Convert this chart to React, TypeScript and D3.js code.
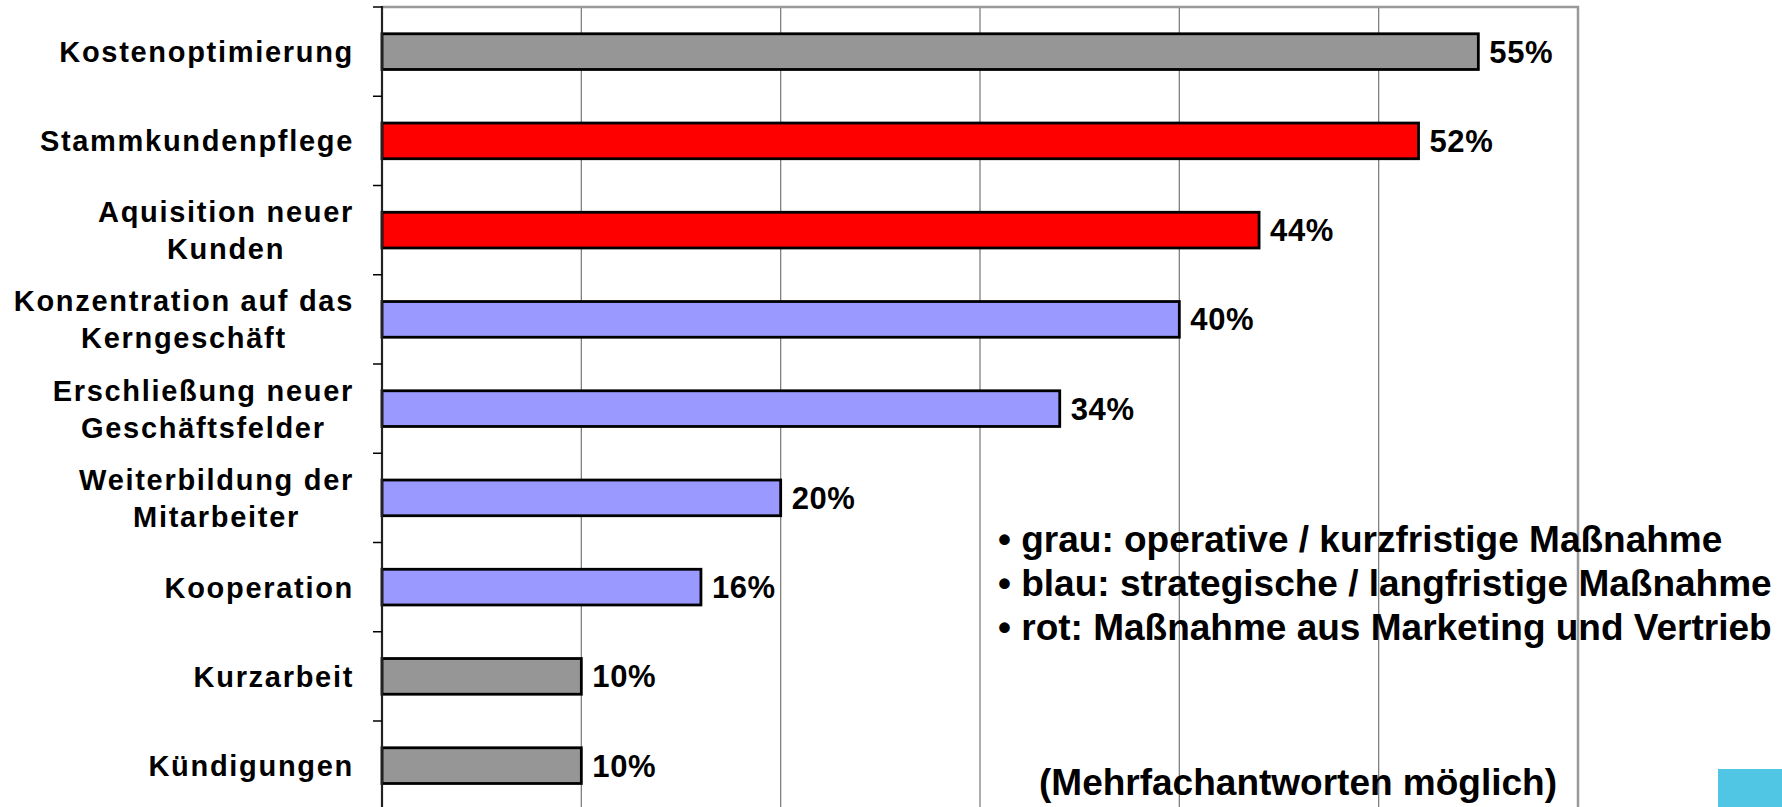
import React, { useEffect, useRef } from 'react';
import * as d3 from 'd3';

const categories = [
  ['Kostenoptimierung'],
  ['Stammkundenpflege'],
  ['Aquisition neuer', 'Kunden'],
  ['Konzentration auf das', 'Kerngeschäft'],
  ['Erschließung neuer', 'Geschäftsfelder'],
  ['Weiterbildung der', 'Mitarbeiter'],
  ['Kooperation'],
  ['Kurzarbeit'],
  ['Kündigungen'],
];
const values = [55, 52, 44, 40, 34, 20, 16, 10, 10];
const groups = ['grau', 'rot', 'rot', 'blau', 'blau', 'blau', 'blau', 'grau', 'grau'];
const xTicks = [0, 10, 20, 30, 40, 50, 60];
const legendLines = [
  '• grau: operative / kurzfristige Maßnahme',
  '• blau: strategische / langfristige Maßnahme',
  '• rot: Maßnahme aus Marketing und Vertrieb',
];
const note = '(Mehrfachantworten möglich)';

const W = 1782;
const H = 807;
const FONT = '"Liberation Sans", Arial, Helvetica, sans-serif';

export default function App() {
  const ref = useRef<SVGSVGElement>(null);

  useEffect(() => {
    document.body.style.margin = '0';
    const svg = d3.select(ref.current);
    svg.selectAll('*').remove();

    const left = 382, right = 1578, top = 7;
    const band = 89.25;
    const bottom = top + band * categories.length;

    const x = d3.scaleLinear().domain([0, 60]).range([left, right]);
    const y = d3.scaleBand<number>()
      .domain(d3.range(categories.length))
      .range([top, bottom])
      .paddingInner(0.6)
      .paddingOuter(0.3);

    const color = d3.scaleOrdinal<string, string>()
      .domain(['grau', 'rot', 'blau'])
      .range(['#969696', '#ff0000', '#9999ff']);

    // gridlines
    svg.append('g')
      .selectAll('line')
      .data(xTicks.slice(1, -1))
      .enter().append('line')
      .attr('x1', d => x(d)).attr('x2', d => x(d))
      .attr('y1', top).attr('y2', bottom)
      .attr('stroke', '#808080')
      .attr('stroke-width', 1.3);

    // frame top / right
    svg.append('path')
      .attr('d', `M${left},${top}H${right}V${bottom}`)
      .attr('fill', 'none')
      .attr('stroke', '#999999')
      .attr('stroke-width', 2.5);

    // bars
    svg.append('g')
      .selectAll('rect')
      .data(values)
      .enter().append('rect')
      .attr('x', x(0))
      .attr('y', (d, i) => y(i)!)
      .attr('width', d => x(d) - x(0))
      .attr('height', y.bandwidth())
      .attr('fill', (d, i) => color(groups[i]))
      .attr('stroke', '#000')
      .attr('stroke-width', 2.8);

    // left axis
    const axis = svg.append('g');
    axis.append('line')
      .attr('x1', left).attr('x2', left)
      .attr('y1', top - 1).attr('y2', bottom)
      .attr('stroke', '#222')
      .attr('stroke-width', 2.2);
    axis.selectAll('line.tick')
      .data(d3.range(categories.length + 1))
      .enter().append('line')
      .attr('class', 'tick')
      .attr('x1', left - 9).attr('x2', left)
      .attr('y1', d => top + d * band).attr('y2', d => top + d * band)
      .attr('stroke', '#000')
      .attr('stroke-width', 1.5);

    // value labels
    svg.append('g')
      .selectAll('text')
      .data(values)
      .enter().append('text')
      .attr('x', d => x(d) + 11)
      .attr('y', (d, i) => y(i)! + y.bandwidth() / 2 + 11)
      .attr('font-family', FONT)
      .attr('font-weight', 'bold')
      .attr('font-size', 31)
      .attr('letter-spacing', 0.6)
      .text(d => `${d}%`);

    // category labels: block right aligned, lines centred
    const labelRight = 354;
    const lineH = 37;
    categories.forEach((lines, i) => {
      const cy = y(i)! + y.bandwidth() / 2;
      const g = svg.append('g');
      const texts = lines.map((t, j) =>
        g.append('text')
          .attr('y', cy + (j - (lines.length - 1) / 2) * lineH + 10.5)
          .attr('font-family', FONT)
          .attr('font-weight', 'bold')
          .attr('font-size', 29)
          .attr('letter-spacing', 1.7)
          .attr('text-anchor', 'middle')
          .text(t));
      const widths = texts.map(t => (t.node() as SVGTextElement).getComputedTextLength());
      const maxW = d3.max(widths) || 0;
      texts.forEach(t => t.attr('x', labelRight - maxW / 2));
    });

    // legend
    svg.append('g')
      .selectAll('text')
      .data(legendLines)
      .enter().append('text')
      .attr('x', 998)
      .attr('y', (d, i) => 552 + i * 44)
      .attr('font-family', FONT)
      .attr('font-weight', 'bold')
      .attr('font-size', 37)
      .text(d => d);

    svg.append('text')
      .attr('x', 1039)
      .attr('y', 795)
      .attr('font-family', FONT)
      .attr('font-weight', 'bold')
      .attr('font-size', 37)
      .text(note);

    svg.append('rect')
      .attr('x', 1718).attr('y', 769)
      .attr('width', 64).attr('height', 38)
      .attr('fill', '#50c6e4');
  }, []);

  return (
    <svg ref={ref} width={W} height={H}
      style={{ position: 'absolute', left: 0, top: 0, background: '#fff' }} />
  );
}
